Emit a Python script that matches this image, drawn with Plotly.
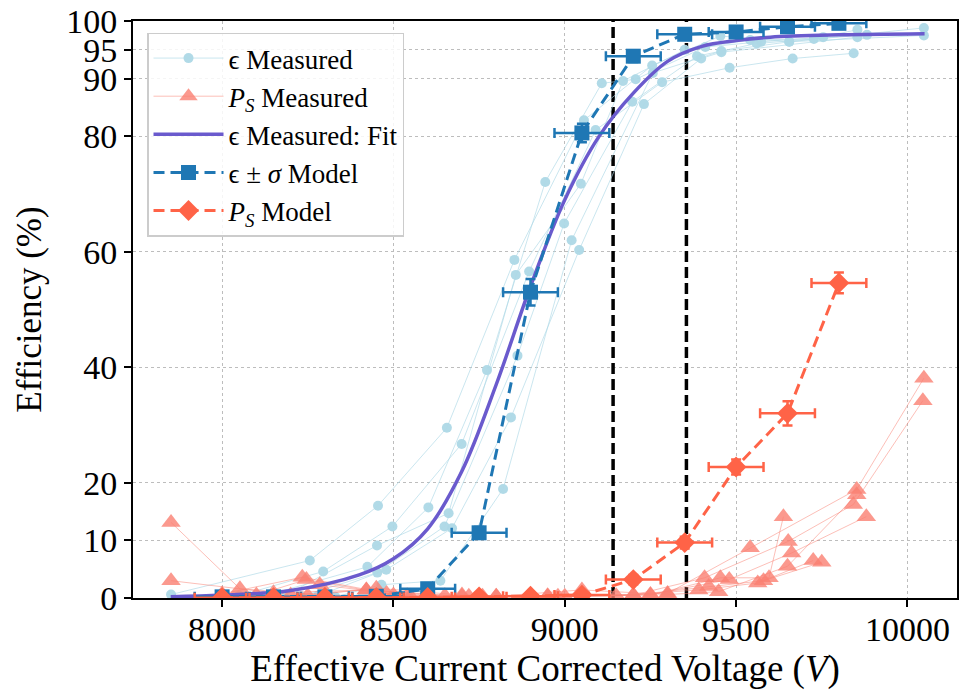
import plotly.graph_objects as go

# ---- Model efficiency (epsilon +/- sigma) ----
model_v = [8000, 8150, 8300, 8450, 8600, 8750, 8900, 9050, 9200, 9350, 9500, 9650, 9800]
model_eff = [0.2, 0.2, 0.2, 0.3, 1.6, 11.3, 53.0, 80.6, 93.9, 97.7, 98.1, 99.0, 99.6]
model_eff_err = [0.1, 0.1, 0.1, 0.1, 0.5, 1.0, 2.3, 1.6, 1.0, 0.7, 0.5, 0.4, 0.3]
model_v_err = [80] * 13

# ---- Model streamer probability P_S ----
ps_model_v = [8000, 8150, 8300, 8450, 8600, 8750, 8900, 9050, 9200, 9350, 9500, 9650, 9800]
ps_model = [0.05, 0.05, 0.1, 0.1, 0.1, 0.2, 0.3, 0.5, 3.2, 9.6, 22.7, 32.0, 54.6]
ps_model_err = [0.05, 0.05, 0.05, 0.05, 0.05, 0.1, 0.1, 0.2, 0.8, 1.0, 1.3, 2.1, 1.8]
ps_model_v_err = [80] * 13

# ---- Fitted efficiency curve (sampled) ----
fit_v = [7850, 8000, 8200, 8400, 8500, 8600, 8700, 8800, 8900, 9000,
         9100, 9200, 9300, 9400, 9500, 9600, 9800, 10050]
fit_eff = [0.2, 0.5, 1.3, 4.0, 6.8, 12.0, 22.0, 37.0, 54.0, 69.0,
           80.0, 87.5, 93.0, 95.6, 96.6, 97.2, 97.6, 97.8]

# ---- Measured efficiency runs ----
eff_runs_v = [
    [7851, 8256, 8455, 8656, 8853, 9056, 9255, 9454, 9655, 10048],
    [8050, 8295, 8497, 8699, 8896, 9090, 9284, 9481, 9665, 9843],
    [8120, 8424, 8602, 8773, 8943, 9108, 9207, 9410, 9573, 9754],
    [8180, 8452, 8661, 8857, 9047, 9170, 9350, 9541, 9727, 9854],
    [8230, 8453, 8649, 8862, 8998, 9197, 9386, 9560, 9882],
    [8280, 8479, 8671, 8843, 9042, 9231, 9398, 9457, 9854],
    [8330, 8465, 8637, 8820, 9020, 9257, 9457, 9655, 10048],
]
eff_runs = [
    [0.6, 6.5, 16.0, 29.5, 58.6, 82.8, 92.3, 97.4, 96.4, 98.8],
    [0.4, 4.6, 12.4, 26.7, 56.6, 81.1, 89.4, 91.9, 93.5, 94.4],
    [0.3, 5.4, 15.7, 39.5, 72.1, 89.2, 89.9, 95.5, 96.4, 97.2],
    [0.3, 9.1, 14.7, 56.0, 71.8, 89.6, 95.0, 96.7, 96.9, 98.5],
    [0.3, 4.4, 12.4, 42.0, 64.9, 86.0, 93.9, 96.1, 97.6],
    [0.4, 4.9, 12.1, 31.3, 60.3, 85.6, 93.5, 94.6, 97.2],
    [0.2, 2.3, 3.0, 18.9, 62.0, 91.0, 94.8, 96.4, 97.5],
]

# ---- Measured P_S runs ----
ps_runs_v = [
    [7851, 8052, 8300, 8550, 8800, 9050, 9300, 9541, 9852, 10048],
    [7851, 8150, 8421, 8700, 8950, 9200, 9408, 9652, 9842, 10045],
    [8000, 8234, 8480, 8720, 8980, 9250, 9454, 9596, 9638],
    [8100, 8246, 8500, 8760, 9000, 9250, 9480, 9662, 9880],
    [8150, 8285, 8540, 8800, 9050, 9300, 9449, 9650, 9852],
    [8200, 8421, 8650, 8900, 9150, 9391, 9563, 9725],
    [8250, 8450, 8700, 8950, 9200, 9420, 9580, 9750],
]
ps_runs = [
    [13.1, 1.6, 0.5, 0.3, 0.3, 0.4, 0.8, 8.7, 18.8, 38.1],
    [3.0, 0.9, 1.4, 0.3, 0.4, 0.5, 3.5, 9.8, 16.2, 34.2],
    [0.7, 3.6, 0.8, 0.3, 0.3, 0.5, 3.5, 3.5, 14.1],
    [0.5, 3.2, 0.5, 0.3, 0.3, 0.6, 3.2, 7.8, 14.1],
    [0.4, 2.3, 0.4, 0.3, 1.4, 0.6, 1.1, 5.5, 17.9],
    [0.5, 1.4, 0.4, 0.3, 0.4, 1.4, 2.6, 6.5],
    [0.4, 1.7, 0.5, 0.3, 0.5, 2.0, 3.0, 6.2],
]

# ---- Operating-window thresholds ----
threshold_v = [9141, 9355]

y_ticks = [0, 10, 20, 40, 60, 80, 90, 95, 100]
x_ticks = [8000, 8500, 9000, 9500, 10000]
x_tick_labels = ["8000", "8500", "9000", "9500", "10000"]

FONT = "Liberation Serif"
fig = go.Figure()

for v in threshold_v:
    fig.add_trace(go.Scatter(
        x=[v, v], y=[0, 100], mode="lines", showlegend=False, hoverinfo="skip",
        line=dict(color="black", width=3.5, dash="11px,5px")))

for i, (xs, ys) in enumerate(zip(eff_runs_v, eff_runs)):
    fig.add_trace(go.Scatter(
        x=xs, y=ys, mode="lines+markers", name="ϵ Measured",
        legendgroup="effm", showlegend=(i == 0),
        line=dict(color="rgba(173,216,230,0.65)", width=1),
        marker=dict(symbol="circle", size=10, color="rgba(173,216,230,0.95)")))

for i, (xs, ys) in enumerate(zip(ps_runs_v, ps_runs)):
    fig.add_trace(go.Scatter(
        x=xs, y=ys, mode="lines+markers",
        name="<i>P</i><sub><i>S</i></sub> Measured",
        legendgroup="psm", showlegend=(i == 0),
        line=dict(color="rgba(250,128,114,0.5)", width=1),
        marker=dict(symbol="triangle-up", size=17, color="rgba(250,128,114,0.8)")))

fig.add_trace(go.Scatter(
    x=fit_v, y=fit_eff, mode="lines", name="ϵ Measured: Fit",
    line=dict(color="#6a5acd", width=3.5, shape="spline")))

fig.add_trace(go.Scatter(
    x=model_v, y=model_eff, mode="lines+markers", name="ϵ ± <i>σ</i> Model",
    line=dict(color="#1f77b4", width=3, dash="11px,6px"),
    marker=dict(symbol="square", size=15, color="#1f77b4"),
    error_x=dict(type="data", array=model_v_err, color="#1f77b4", thickness=2.5, width=5),
    error_y=dict(type="data", array=model_eff_err, color="#1f77b4", thickness=2.5, width=5)))

fig.add_trace(go.Scatter(
    x=ps_model_v, y=ps_model, mode="lines+markers",
    name="<i>P</i><sub><i>S</i></sub> Model",
    line=dict(color="#ff6347", width=3, dash="11px,6px"),
    marker=dict(symbol="diamond", size=16, color="#ff6347"),
    error_x=dict(type="data", array=ps_model_v_err, color="#ff6347", thickness=2.5, width=5),
    error_y=dict(type="data", array=ps_model_err, color="#ff6347", thickness=2.5, width=5)))

axis_common = dict(
    showline=True, linecolor="black", linewidth=2, mirror=True,
    ticks="outside", ticklen=7, tickwidth=1.5, tickcolor="black",
    showgrid=True, gridcolor="#bdbdbd", gridwidth=1, griddash="dot",
    zeroline=False, tickfont=dict(family=FONT, size=34, color="black"),
)

fig.update_layout(
    width=961, height=694,
    margin=dict(l=133, r=2, t=21, b=96),
    paper_bgcolor="white", plot_bgcolor="white",
    font=dict(family=FONT, color="black"),
    xaxis=dict(range=[7740, 10144.6], tickvals=x_ticks, ticktext=x_tick_labels,
               ticklabelstandoff=-7,
               title=dict(text="Effective Current Corrected Voltage (<i>V</i>)",
                          font=dict(family=FONT, size=37), standoff=0),
               **axis_common),
    yaxis=dict(range=[0, 100], tickvals=y_ticks,
               title=dict(text="Efficiency (%)", font=dict(family=FONT, size=35), standoff=14),
               **axis_common),
    legend=dict(x=0.017, y=0.98, xanchor="left", yanchor="top",
                bgcolor="rgba(255,255,255,0.85)", bordercolor="#cccccc", borderwidth=1.5,
                font=dict(family=FONT, size=27, color="black"), itemwidth=70,
                tracegroupgap=0),
)

fig.write_html("out.html")
